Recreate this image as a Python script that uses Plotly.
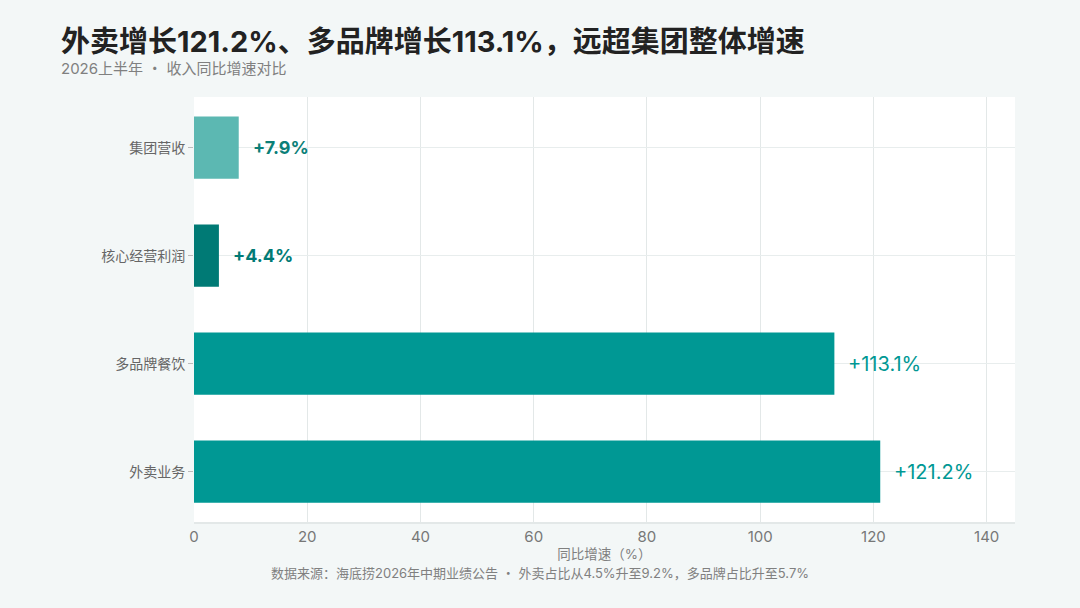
import plotly.graph_objects as go

# 数据
categories = ["外卖业务", "多品牌餐饮", "核心经营利润", "集团营收"]
growth = [121.2, 113.1, 4.4, 7.9]
bar_colors = ["#009894", "#009894", "#007a75", "#5cb8b2"]
label_colors = ["#009894", "#009894", "#007a75", "#0b7f78"]
label_bold = [False, False, True, True]
x_ticks = [0, 20, 40, 60, 80, 100, 120, 140]

font_cn = "Inter, Noto Sans CJK SC, sans-serif"

trace = go.Bar(
    x=growth,
    y=categories,
    orientation="h",
    width=0.575,
    marker=dict(color=bar_colors, line=dict(width=0)),
    hoverinfo="skip",
)
fig = go.Figure(data=[trace])

for cat, val, col, b in zip(categories, growth, label_colors, label_bold):
    txt = "+{:.1f}%".format(val)
    size = 20
    if b:
        txt = "<b>" + txt + "</b>"
        size = 18
    fig.add_annotation(
        x=val, y=cat, text=txt, showarrow=False,
        xanchor="left", xshift=12,
        font=dict(family=font_cn, size=size, color=col),
    )

# 标题、副标题、来源
fig.add_annotation(
    xref="paper", yref="paper", x=-0.165, y=1.13,
    text="<b>外卖增长121.2%、多品牌增长113.1%，远超集团整体增速</b>",
    showarrow=False, xanchor="left", yanchor="middle",
    font=dict(family=font_cn, size=29, color="#222222"),
)
fig.add_annotation(
    xref="paper", yref="paper", x=-0.165, y=1.066,
    text="2026上半年 ・ 收入同比增速对比",
    showarrow=False, xanchor="left", yanchor="middle",
    font=dict(family=font_cn, size=15, color="#808080"),
)
fig.add_annotation(
    xref="paper", yref="paper", x=0.421, y=-0.12,
    text="数据来源：海底捞2026年中期业绩公告 ・ 外卖占比从4.5%升至9.2%，多品牌占比升至5.7%",
    showarrow=False, xanchor="center", yanchor="middle",
    font=dict(family=font_cn, size=13, color="#808080"),
)

fig.update_layout(
    width=1080, height=608,
    paper_bgcolor="#f3f7f7",
    plot_bgcolor="#ffffff",
    margin=dict(l=194, r=65, t=97, b=86),
    showlegend=False,
    font=dict(family=font_cn, color="#666666"),
)

fig.update_xaxes(
    range=[0, 145], tickvals=x_ticks,
    showgrid=True, gridcolor="#e3e8e8", gridwidth=1,
    zeroline=False, showline=True, linecolor="#e3e8e8", linewidth=2,
    ticks="", tickfont=dict(size=15, color="#777777"),
    title=dict(text="同比增速（%）", font=dict(size=13.5, color="#808080"), standoff=4),
)
fig.update_yaxes(
    range=[-0.466, 3.469],
    showgrid=True, gridcolor="#e8eded", gridwidth=1,
    ticks="outside", ticklen=5, tickcolor="#bbbbbb",
    showline=False,
    tickfont=dict(size=14, color="#666666"),
)

fig.write_html("out.html", config={"displayModeBar": False},
               post_script="document.body.style.margin='0';")
